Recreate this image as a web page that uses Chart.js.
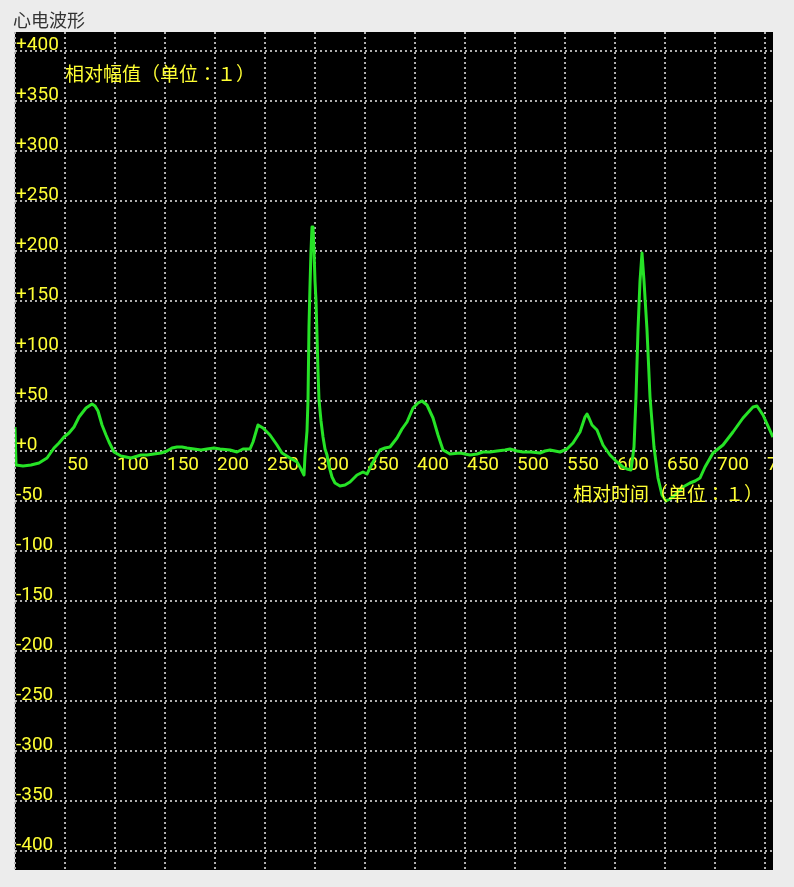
<!DOCTYPE html>
<html>
<head>
<meta charset="utf-8">
<script src="https://cdn.jsdelivr.net/npm/chart.js@4/dist/chart.umd.min.js"></script>
<style>
  body { margin: 0; background: #ececec; }
  canvas { display: block; }
</style>
</head>
<body>
<canvas id="ecg" width="794" height="887"></canvas>
<script>
// sample positions (relative time) and amplitudes
var timeVals = [0, 1, 8, 16, 24, 32, 39, 44, 49, 54, 59, 64, 71, 77, 80, 83, 87, 91, 94, 99,
  106, 116, 126, 132, 139, 146, 152, 157, 162, 167, 172, 179, 186, 192, 199, 205, 215, 222, 228, 235,
  238, 243, 248, 255, 262, 267, 275, 282, 286, 289, 290, 292, 293, 294, 295, 296, 297, 298, 299, 300,
  301, 302, 303, 304, 306, 308, 310, 312, 314, 317, 320, 325, 330, 335, 342, 348, 352, 358, 365, 370,
  375, 382, 387, 392, 398, 403, 407, 412, 418, 423, 428, 435, 445, 455, 462, 468, 475, 482, 490, 495,
  502, 508, 516, 525, 530, 535, 540, 545, 552, 558, 565, 570, 572, 574, 577, 582, 588, 595, 602, 608,
  612, 616, 619, 621, 623, 625, 627, 629, 632, 635, 639, 643, 647, 651, 655, 660, 668, 675, 680, 685,
  690, 698, 708, 718, 728, 738, 742, 748, 757, 758];
var ampVals = [24, -14, -15, -14, -12, -7, 3, 8, 14, 18, 24, 34, 43, 47, 45, 40, 26, 16, 9, -1,
  -5, -7, -4, -4, -3, -2, 0, 3, 4, 4, 3, 2, 1, 2, 3, 2, 1, -1, 2, 2,
  9, 26, 23, 16, 6, -2, -7, -11, -18, -24, -5, 20, 51, 125, 165, 200, 224, 224, 200, 170,
  150, 115, 80, 51, 30, 14, 2, -4, -15, -26, -32, -35, -34, -31, -24, -21, -23, -11, 1, 3,
  4, 13, 22, 29, 43, 48, 50, 46, 33, 16, 1, -3, -2, -4, -3, -1, -1, 0, 1, 2,
  0, -1, -1, -2, 0, 1, 0, -1, 2, 8, 19, 34, 37, 33, 26, 21, 6, -4, -11, -16,
  -18, -19, 4, 54, 121, 170, 198, 170, 121, 54, 4, -27, -44, -50, -48, -44, -36, -32, -30, -27,
  -16, -2, 6, 19, 33, 44, 45, 36, 16, 14];

var xTicks = [0, 50, 100, 150, 200, 250, 300, 350, 400, 450, 500, 550, 600, 650, 700, 750];
var yTicks = [-400, -350, -300, -250, -200, -150, -100, -50, 0, 50, 100, 150, 200, 250, 300, 350, 400];

var points = timeVals.map(function (t, i) { return { x: t, y: ampVals[i] }; });

var numFont = { family: 'Roboto, "Noto Sans CJK SC", sans-serif', size: 19 };
var cjkFont = '19px "Noto Sans CJK TC", Roboto, sans-serif';
var yellow = '#ffff33';
var gridGray = '#b0b0b0';

var panel = {
  id: 'panel',
  beforeDraw: function (chart) {
    var a = chart.chartArea, ctx = chart.ctx;
    ctx.save();
    ctx.fillStyle = '#000';
    ctx.fillRect(a.left, a.top, a.right - a.left, a.bottom - a.top);
    ctx.restore();
  },
  afterDraw: function (chart) {
    var a = chart.chartArea, ctx = chart.ctx;
    var xs = chart.scales.x, ys = chart.scales.y;
    ctx.save();
    // cut off tick text running past the plot on the right
    ctx.fillStyle = '#ececec';
    ctx.fillRect(a.right, 0, chart.width - a.right, chart.height);
    // axis captions
    ctx.fillStyle = yellow;
    ctx.font = cjkFont;
    ctx.textBaseline = 'middle';
    ctx.textAlign = 'left';
    ctx.fillText('相对幅值（单位：１）', xs.getPixelForValue(50), ys.getPixelForValue(377));
    ctx.fillText('相对时间（单位：１）', xs.getPixelForValue(558), ys.getPixelForValue(-43));
    ctx.restore();
  }
};

new Chart(document.getElementById('ecg'), {
  type: 'line',
  data: {
    datasets: [{
      label: 'ECG',
      data: points,
      borderColor: '#26e326',
      borderWidth: 3,
      borderJoinStyle: 'round',
      pointRadius: 0,
      tension: 0,
      fill: false
    }]
  },
  options: {
    responsive: false,
    animation: false,
    layout: { padding: { left: 13, right: 21, top: 0, bottom: 17 } },
    plugins: {
      legend: { display: false },
      tooltip: { enabled: false },
      title: {
        display: true,
        text: '心电波形',
        align: 'start',
        color: '#333',
        font: { family: '"Noto Sans CJK SC", sans-serif', size: 18, weight: 'normal' },
        padding: { top: 9, bottom: 1.4, left: 2 }
      }
    },
    scales: {
      x: {
        type: 'linear',
        min: 0,
        max: 758,
        position: { y: 0 },
        afterBuildTicks: function (s) { s.ticks = xTicks.map(function (v) { return { value: v }; }); },
        afterFit: function (s) { s.paddingLeft = 0; s.paddingRight = 0; },
        grid: { color: gridGray, lineWidth: 2, drawTicks: false },
        border: { display: false, dash: [2, 3] },
        ticks: {
          color: yellow,
          font: numFont,
          align: 'start',
          labelOffset: 2,
          padding: 3,
          maxRotation: 0,
          autoSkip: false,
          callback: function (v) { return v === 0 ? '' : String(v); }
        }
      },
      y: {
        type: 'linear',
        min: -419,
        max: 419,
        position: 'left',
        afterBuildTicks: function (s) { s.ticks = yTicks.map(function (v) { return { value: v }; }); },
        grid: { color: gridGray, lineWidth: 2, drawTicks: false },
        border: { display: false, dash: [2, 3] },
        ticks: {
          color: yellow,
          font: numFont,
          mirror: true,
          padding: 1,
          labelOffset: -6,
          callback: function (v) { return v >= 0 ? '+' + v : String(v); }
        }
      }
    }
  },
  plugins: [panel]
});
</script>
</body>
</html>
